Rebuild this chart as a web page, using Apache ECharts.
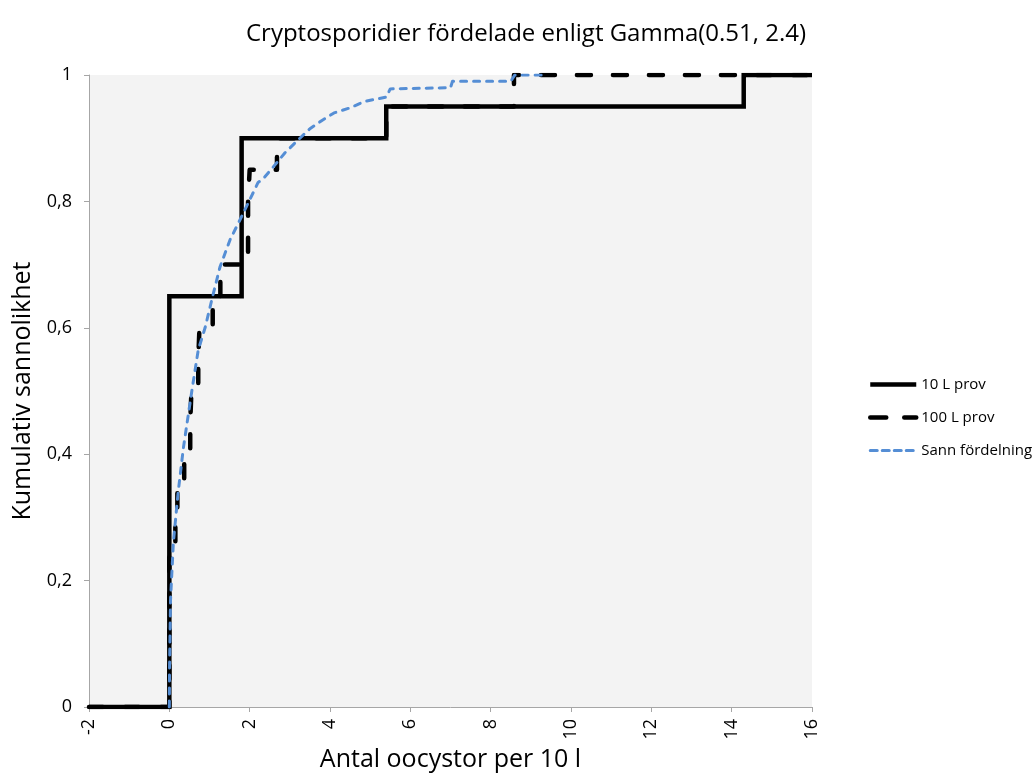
<!DOCTYPE html>
<html>
<head>
<meta charset="utf-8">
<script src="https://cdn.jsdelivr.net/npm/echarts@6/dist/echarts.min.js"></script>
<style>html,body{margin:0;padding:0;background:#fff}#c{width:1035px;height:778px}</style>
</head>
<body>
<div id="c"></div>
<script>
// 10 L prov: jump positions and cumulative values (step function)
const prov10X = [-2, 0, 1.8, 5.4, 14.3, 16];
const prov10Y = [0, 0.65, 0.9, 0.95, 1.0, 1.0];

// 100 L prov: jump positions and cumulative values (step function)
const prov100X = [-2, 0, 0.15, 0.2, 0.37, 0.52, 0.55, 0.72, 0.75, 1.08, 1.27, 1.96, 2.0, 2.68, 5.4, 8.58, 16];
const prov100Y = [0, 0.25, 0.30, 0.35, 0.40, 0.45, 0.50, 0.55, 0.60, 0.65, 0.70, 0.80, 0.85, 0.90, 0.95, 1.0, 1.0];

// Sann fördelning (true distribution)
const sannX = [0, 0.005, 0.03, 0.1, 0.22, 0.35, 0.56, 0.72, 0.89, 1.06, 1.26, 1.51, 1.76, 1.96, 2.21, 2.34, 2.58, 2.88, 3.25, 3.5, 3.8, 4.1, 4.5, 4.85, 5.4, 5.5, 7.0, 7.05, 8.5, 8.6, 9.4];
const sannY = [0, 0.06, 0.17, 0.26, 0.34, 0.41, 0.50, 0.565, 0.60, 0.645, 0.696, 0.739, 0.771, 0.797, 0.83, 0.836, 0.854, 0.877, 0.90, 0.915, 0.928, 0.94, 0.948, 0.958, 0.965, 0.978, 0.98, 0.99, 0.99, 1.0, 1.0];

const seriesNames = ['10 L prov', '100 L prov', 'Sann fördelning'];
const titleText = 'Cryptosporidier fördelade enligt Gamma(0.51, 2.4)';
const xName = 'Antal oocystor per 10 l';
const yName = 'Kumulativ sannolikhet';

const zip = (xs, ys) => xs.map((x, i) => [x, ys[i]]);
const FONT = '"Open Sans", Lato, sans-serif';

const black10 = {color: '#000', width: 4.5, join: 'miter'};
const black100 = {color: '#000', width: 4.5, type: [14, 22], cap: 'round', join: 'round'};
const blueSann = {color: '#558ed5', width: 3, type: [6, 7], cap: 'round', join: 'round'};

const chart = echarts.init(document.getElementById('c'), null, {renderer: 'canvas'});
chart.setOption({
  animation: false,
  backgroundColor: '#ffffff',
  textStyle: {fontFamily: FONT, color: '#000'},
  title: {
    text: titleText,
    left: 521, top: 17, textAlign: 'center',
    textStyle: {fontFamily: FONT, fontSize: 24, fontWeight: 'normal', color: '#000'}
  },
  grid: {
    left: 89, right: 223, top: 75, bottom: 71,
    show: true, backgroundColor: '#f3f3f3', borderWidth: 0
  },
  legend: {
    orient: 'vertical', left: 868, top: 377, padding: 0,
    itemWidth: 46, itemHeight: 14, itemGap: 18,
    itemStyle: {opacity: 0},
    textStyle: {fontFamily: FONT, fontSize: 15, color: '#000', lineHeight: 15},
    data: [
      {name: seriesNames[0], lineStyle: {width: 4.5}},
      {name: seriesNames[1], lineStyle: {width: 4.5, type: [16, 18]}},
      {name: seriesNames[2], lineStyle: {width: 3, type: [7, 5]}}
    ]
  },
  xAxis: {
    type: 'value', min: -2, max: 16, interval: 2,
    name: xName, nameLocation: 'middle', nameGap: 29,
    nameTextStyle: {fontFamily: FONT, fontSize: 25, color: '#000'},
    axisLine: {show: true, onZero: false, lineStyle: {color: '#a6a6a6', width: 1}},
    axisTick: {show: true, inside: false, length: 5, lineStyle: {color: '#a6a6a6'}},
    axisLabel: {rotate: 90, margin: 12, fontSize: 18, color: '#000', fontFamily: FONT},
    splitLine: {show: false}
  },
  yAxis: {
    type: 'value', min: 0, max: 1, interval: 0.2,
    name: yName, nameLocation: 'middle', nameGap: 52,
    nameTextStyle: {fontFamily: FONT, fontSize: 25, color: '#000'},
    axisLine: {show: true, onZero: false, lineStyle: {color: '#a6a6a6', width: 1}},
    axisTick: {show: true, inside: false, length: 5, lineStyle: {color: '#a6a6a6'}},
    axisLabel: {margin: 17, fontSize: 18, color: '#000', fontFamily: FONT,
      formatter: v => String(Math.round(v * 10) / 10).replace('.', ',')},
    splitLine: {show: false}
  },
  series: [
    {
      name: seriesNames[0], type: 'line', step: 'end', symbol: 'none',
      data: zip(prov10X, prov10Y), z: 2,
      lineStyle: black10, itemStyle: {color: '#000'}
    },
    {
      name: seriesNames[1], type: 'line', step: 'end', symbol: 'none',
      data: zip(prov100X, prov100Y), z: 3,
      lineStyle: black100, itemStyle: {color: '#000'}
    },
    {
      name: seriesNames[2], type: 'line', symbol: 'none', smooth: false,
      data: zip(sannX, sannY), z: 4,
      lineStyle: blueSann, itemStyle: {color: '#558ed5'}
    }
  ]
});
</script>
</body>
</html>
